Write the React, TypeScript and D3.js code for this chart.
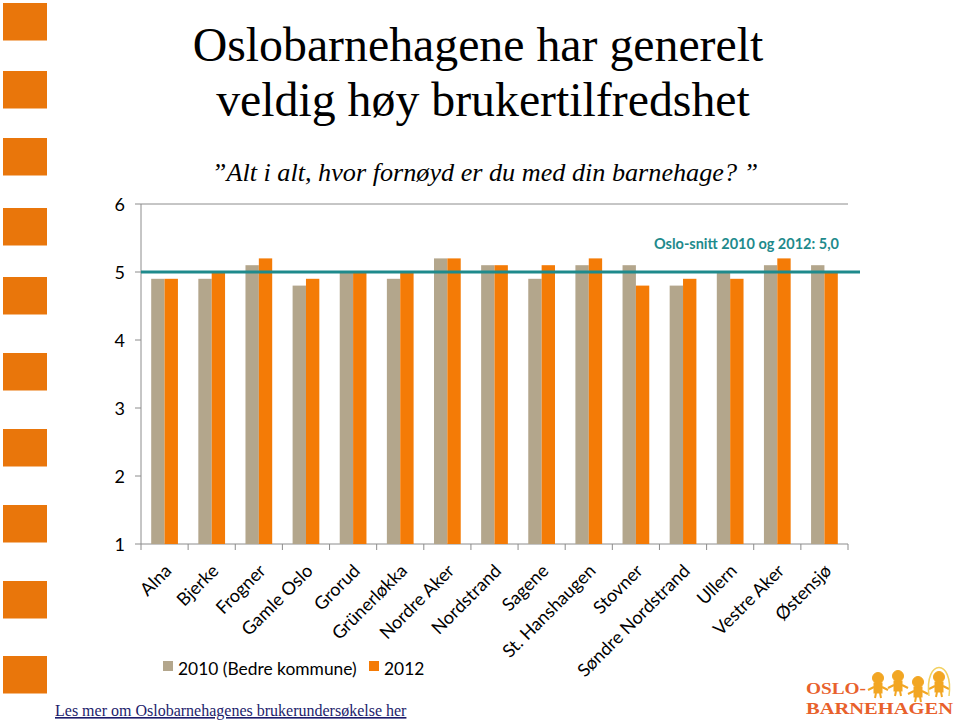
import React from "react";
import * as d3 from "d3";

const districts = [
  "Alna", "Bjerke", "Frogner", "Gamle Oslo", "Grorud", "Grünerløkka", "Nordre Aker",
  "Nordstrand", "Sagene", "St. Hanshaugen", "Stovner", "Søndre Nordstrand", "Ullern",
  "Vestre Aker", "Østensjø",
];
const values2010 = [4.9, 4.9, 5.1, 4.8, 5.0, 4.9, 5.2, 5.1, 4.9, 5.1, 5.1, 4.8, 5.0, 5.1, 5.1];
const values2012 = [4.9, 5.0, 5.2, 4.9, 5.0, 5.0, 5.2, 5.1, 5.1, 5.2, 4.8, 4.9, 4.9, 5.2, 5.0];
const seriesNames = ["2010 (Bedre kommune)", "2012"];
const yTicks = [1, 2, 3, 4, 5, 6];
const osloAverage = 5.0;
const averageLabel = "Oslo-snitt 2010 og 2012: 5,0";

const COLORS = ["#B3A68C", "#F47B06"];
const TEAL = "#1E8A8C";
const AXIS = "#8C8C8C";
const SQUARE = "#E9760B";
const LABEL_FONT = "Lato, 'Open Sans', sans-serif";
const SERIF = "'Liberation Serif', 'Times New Roman', serif";

const squareRows = [3, 71, 138, 208, 277, 353, 429, 505, 581, 656];
const kids = [
  { cx: 878, cy: 678 },
  { cx: 898, cy: 676 },
  { cx: 918, cy: 682 },
  { cx: 939, cy: 677 },
];

export default function App() {
  const W = 960, H = 723;
  const left = 141, right = 848, top = 204, bottom = 544;

  const x = d3.scaleBand<string>().domain(districts).range([left, right]).paddingInner(0.433).paddingOuter(0.2165);
  const step = x.step();
  const xs = d3.scaleBand<string>().domain(["2010", "2012"]).range([0, x.bandwidth()]);
  const y = d3.scaleLinear().domain([1, 6]).range([bottom, top]);

  const data = districts.map((d, i) => ({ d, v: [values2010[i], values2012[i]] }));

  return (
    <svg width={W} height={H} style={{ position: "absolute", left: 0, top: 0, background: "#fff" }}>
      <rect x={0} y={0} width={W} height={H} fill="#fff" />
      {squareRows.map((sy, i) => (
        <rect key={i} x={3} y={sy} width={44} height={37.5} fill={SQUARE} />
      ))}

      <text x={478} y={61} textAnchor="middle" fontFamily={SERIF} fontSize={47.8} fill="#000">
        Oslobarnehagene har generelt
      </text>
      <text x={483} y={116} textAnchor="middle" fontFamily={SERIF} fontSize={47.8} fill="#000">
        veldig høy brukertilfredshet
      </text>
      <text x={485} y={181} textAnchor="middle" fontFamily={SERIF} fontStyle="italic" fontSize={26.2} fill="#000">
        ”Alt i alt, hvor fornøyd er du med din barnehage? ”
      </text>

      {/* axes */}
      <line x1={left} x2={left} y1={top} y2={bottom} stroke={AXIS} strokeWidth={1} />
      <line x1={left} x2={right} y1={top} y2={top} stroke={AXIS} strokeWidth={1} />
      <line x1={left} x2={right} y1={bottom} y2={bottom} stroke={AXIS} strokeWidth={1} />
      {yTicks.map((t) => (
        <g key={t}>
          <line x1={left - 6} x2={left} y1={y(t)} y2={y(t)} stroke={AXIS} />
          <text x={125} y={y(t) + 6.5} textAnchor="end" fontFamily={LABEL_FONT} fontSize={18} fill="#000">
            {t}
          </text>
        </g>
      ))}
      {d3.range(districts.length + 1).map((i) => (
        <line key={i} x1={left + i * step} x2={left + i * step} y1={bottom} y2={bottom + 6} stroke={AXIS} />
      ))}

      {/* bars */}
      {data.map((row) => (
        <g key={row.d} transform={`translate(${x(row.d)},0)`}>
          {row.v.map((v, j) => (
            <rect
              key={j}
              x={xs(j === 0 ? "2010" : "2012")}
              y={y(v)}
              width={xs.bandwidth()}
              height={y(1) - y(v)}
              fill={COLORS[j]}
            />
          ))}
        </g>
      ))}

      {/* average line */}
      <line x1={left} x2={860} y1={y(osloAverage)} y2={y(osloAverage)} stroke={TEAL} strokeWidth={3} />
      <text x={839} y={249} textAnchor="end" fontFamily={LABEL_FONT} fontWeight="bold" fontSize={14.5} fill={TEAL}>
        {averageLabel}
      </text>

      {/* x labels */}
      {districts.map((d) => {
        const cx = (x(d) as number) + x.bandwidth() / 2;
        return (
          <text
            key={d}
            transform={`translate(${cx + 8},${bottom + 28}) rotate(-45)`}
            textAnchor="end"
            fontFamily={LABEL_FONT}
            fontSize={18}
            fill="#000"
          >
            {d}
          </text>
        );
      })}

      {/* legend */}
      <rect x={163} y={661} width={10} height={10} fill={COLORS[0]} />
      <text x={178} y={675} fontFamily={LABEL_FONT} fontSize={17.4} fill="#000">{seriesNames[0]}</text>
      <rect x={369} y={661} width={10} height={10} fill={COLORS[1]} />
      <text x={384} y={675} fontFamily={LABEL_FONT} fontSize={17.4} fill="#000">{seriesNames[1]}</text>

      {/* footer link */}
      <text x={55} y={716} fontFamily={SERIF} fontSize={16} fill="#1C1C6B" textDecoration="underline">
        Les mer om Oslobarnehagenes brukerundersøkelse her
      </text>

      {/* logo */}
      <g>
        <text x={806} y={694} fontFamily={SERIF} fontWeight="bold" fontSize={16} fill="#E8612C" textLength={60} lengthAdjust="spacingAndGlyphs">OSLO-</text>
        <text x={806} y={714} fontFamily={SERIF} fontWeight="bold" fontSize={16} fill="#E8612C" textLength={147} lengthAdjust="spacingAndGlyphs">BARNEHAGEN</text>
        {kids.map((k, i) => (
          <g key={i} fill="#F2A623" stroke="#F2A623">
            <circle cx={k.cx} cy={k.cy} r={5.5} />
            <rect x={k.cx - 4} y={k.cy + 5} width={8} height={10} />
            <line x1={k.cx - 4} y1={k.cy + 9} x2={k.cx - 10} y2={k.cy + 12} strokeWidth={2} />
            <line x1={k.cx + 4} y1={k.cy + 9} x2={k.cx + 10} y2={k.cy + 12} strokeWidth={2} />
            <line x1={k.cx - 2} y1={k.cy + 15} x2={k.cx - 3} y2={k.cy + 20} strokeWidth={2} />
            <line x1={k.cx + 2} y1={k.cy + 15} x2={k.cx + 3} y2={k.cy + 20} strokeWidth={2} />
          </g>
        ))}
        <path d="M929,696 C924,658 954,658 949,696" fill="none" stroke="#F2D060" strokeWidth={1.5} />
      </g>
    </svg>
  );
}
